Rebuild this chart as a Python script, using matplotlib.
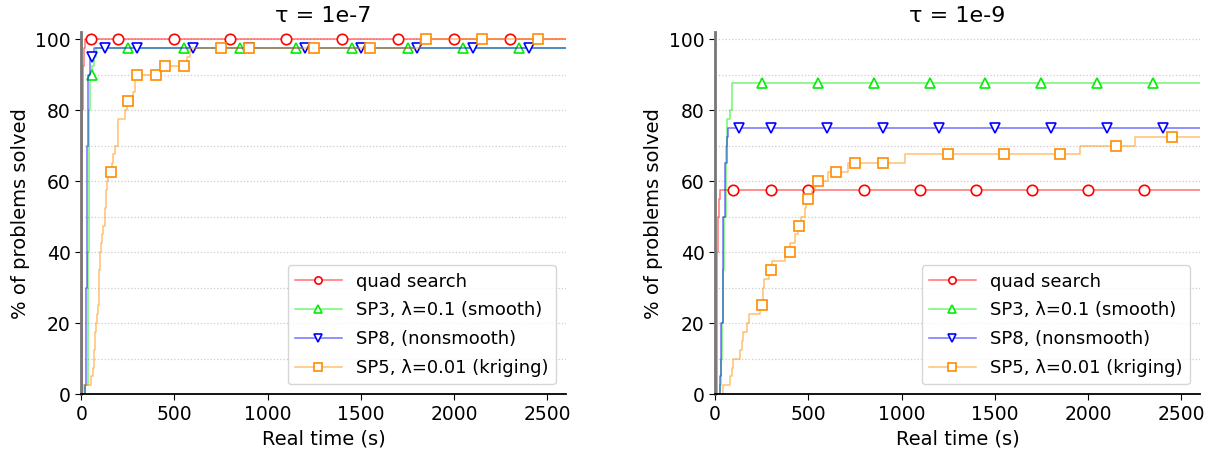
import numpy as np
import matplotlib
matplotlib.use("Agg")
import matplotlib.pyplot as plt
from matplotlib.ticker import MultipleLocator

XMAX = 2600

titles = ["τ = 1e-7", "τ = 1e-9"]
labels = ["quad search", "SP3, λ=0.1 (smooth)", "SP8, (nonsmooth)", "SP5, λ=0.01 (kriging)"]
colors = ["#ff0000", "#00ee00", "#0000ff", "#ff8c00"]
markers = ["o", "^", "v", "s"]

# ---- tau = 1e-7 : event times (s) and % solved after each event ----
l_quad_t = [2, 4, 6, 9, 13, 18]
l_quad_p = [30, 60, 80, 92.5, 97.5, 100]
l_quad_m = [52, 200, 500, 800, 1100, 1400, 1700, 2000, 2300]

l_sp3_t = [20, 38, 42, 46, 60, 70, 79]
l_sp3_p = [2.5, 40, 80, 90, 92.5, 95, 97.5]
l_sp3_m = [57, 250, 550, 850, 1150, 1450, 1750, 2050, 2350]

l_sp8_t = [22, 28, 33, 38, 45, 66]
l_sp8_p = [2.5, 30, 70, 90, 95, 97.5]
l_sp8_m = [57, 130, 300, 600, 900, 1200, 1500, 1800, 2100, 2400]

l_sp5_t = [12, 52, 65, 68, 70, 72, 76, 80, 86, 90, 93, 96, 100, 105, 110, 118, 125,
           132, 138, 145, 165, 168, 180, 195, 200, 235, 245, 278, 290, 430, 570, 585, 1815]
l_sp5_p = [2.5, 5, 7.5, 10, 12.5, 15, 17.5, 20, 22.5, 25, 30, 35, 40, 42.5, 45, 47.5, 52.5,
           57.5, 60, 62.5, 65, 67.5, 70, 75, 77.5, 80, 82.5, 85, 90, 92.5, 95, 97.5, 100]
l_sp5_m = [160, 250, 300, 400, 450, 550, 750, 900, 1250, 1550, 1850, 2150, 2450]

# ---- tau = 1e-9 ----
r_quad_t = [8, 12, 16, 20, 25]
r_quad_p = [20, 40, 50, 55, 57.5]
r_quad_m = [95, 300, 500, 800, 1100, 1400, 1700, 2000, 2300]

r_sp3_t = [25, 32, 36, 42, 50, 58, 66, 80, 93]
r_sp3_p = [2.5, 10, 20, 35, 50, 70, 77.5, 80, 87.5]
r_sp3_m = [250, 550, 850, 1150, 1450, 1750, 2050, 2350]

r_sp8_t = [28, 32, 40, 45, 55, 62, 70]
r_sp8_p = [5, 20, 40, 50, 65, 72.5, 75]
r_sp8_m = [130, 300, 600, 900, 1200, 1500, 1800, 2100, 2400]

r_sp5_t = [44, 80, 90, 95, 134, 143, 150, 170, 184, 240, 255, 262, 290, 305, 375, 402,
           428, 445, 460, 480, 490, 518, 535, 607, 714, 1018, 1959, 2250]
r_sp5_p = [2.5, 5, 7.5, 10, 12.5, 15, 17.5, 20, 22.5, 25, 30, 32.5, 35, 37.5, 40, 42.5,
           45, 47.5, 50, 52.5, 55, 57.5, 60, 62.5, 65, 67.5, 70, 72.5]
r_sp5_m = [250, 300, 400, 450, 500, 550, 650, 750, 900, 1250, 1550, 1850, 2150, 2450]

panels = [
    [(l_quad_t, l_quad_p, l_quad_m), (l_sp3_t, l_sp3_p, l_sp3_m),
     (l_sp8_t, l_sp8_p, l_sp8_m), (l_sp5_t, l_sp5_p, l_sp5_m)],
    [(r_quad_t, r_quad_p, r_quad_m), (r_sp3_t, r_sp3_p, r_sp3_m),
     (r_sp8_t, r_sp8_p, r_sp8_m), (r_sp5_t, r_sp5_p, r_sp5_m)],
]


def step_series(t, p, m):
    t = np.asarray(t, float)
    p = np.asarray(p, float)
    xs = np.unique(np.concatenate([[0.0], t, np.asarray(m, float), [XMAX + 50]]))
    idx = np.searchsorted(t, xs, side="right") - 1
    ys = np.where(idx >= 0, p[np.clip(idx, 0, None)], 0.0)
    mk = [int(np.searchsorted(xs, v)) for v in m]
    return xs, ys, mk


plt.rcParams["font.family"] = ["DejaVu Sans"]
fig = plt.figure(figsize=(12.12, 4.5), dpi=100)
axes = [fig.add_axes([0.067, 0.124, 0.400, 0.805]),
        fig.add_axes([0.590, 0.124, 0.400, 0.805])]

for ax, title, series in zip(axes, titles, panels):
    for (t, p, m), lab, c, mk in zip(series, labels, colors, markers):
        xs, ys, me = step_series(t, p, m)
        rgba = matplotlib.colors.to_rgba(c, 0.55)
        ax.plot(xs, ys, drawstyle="steps-post", color=rgba, lw=1.1,
                marker=mk, markevery=me, markersize=7.5,
                markeredgecolor=c, markerfacecolor="white", markeredgewidth=1.2,
                label=lab)
    ax.set_xlim(0, XMAX)
    ax.set_ylim(0, 102)
    ax.yaxis.set_major_locator(MultipleLocator(20))
    ax.yaxis.set_minor_locator(MultipleLocator(10))
    ax.xaxis.set_major_locator(MultipleLocator(500))
    ax.grid(axis="y", which="both", color="#cccccc", linestyle=":", lw=0.9)
    ax.tick_params(axis="y", which="minor", length=0)
    ax.tick_params(labelsize=13.5, length=4)
    for s in ["top", "right"]:
        ax.spines[s].set_visible(False)
    ax.spines["left"].set_color("#777777")
    ax.spines["left"].set_linewidth(2)
    ax.spines["bottom"].set_linewidth(1.3)
    ax.set_xlabel("Real time (s)", fontsize=14)
    ax.set_ylabel("% of problems solved", fontsize=14)
    ax.set_title(title, fontsize=16, pad=7)
    ax.legend(loc="lower right", fontsize=13, markerscale=0.7,
              handlelength=2.6, borderaxespad=0.55, labelspacing=0.6)

fig.savefig("out.png", dpi=100)
